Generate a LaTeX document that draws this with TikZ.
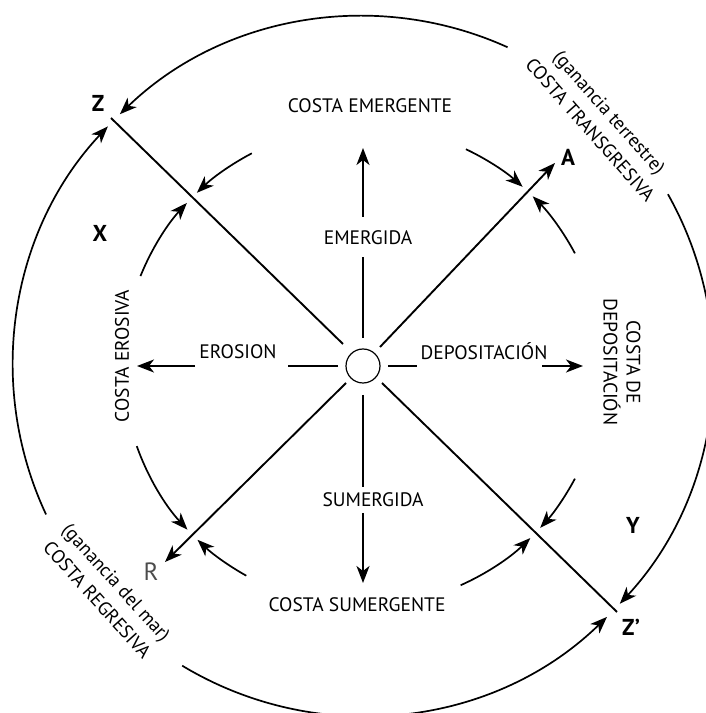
\documentclass[tikz,border=0pt]{standalone}
\usepackage{fontspec}
\setmainfont{PT Sans}
\usetikzlibrary{arrows.meta,calc}
\begin{document}
\begin{tikzpicture}[x=1pt,y=1pt,
  tip/.style={-{Stealth[length=17pt,width=13pt,inset=5pt]}},
  ln/.style={line width=1.9pt},
  arcl/.style={line width=1.7pt},
  lab/.style={font=\fontsize{19.5}{21}\selectfont, inner sep=0pt},
  rlab/.style={font=\fontsize{19}{20}\selectfont, inner sep=0pt, align=center},
  big/.style={font=\fontsize{23}{24}\selectfont\bfseries, inner sep=0pt},
]
\useasboundingbox (0,0) rectangle (706,713);
\coordinate (O) at (363,347);
\node[circle, draw, line width=1.2pt, minimum size=34pt, inner sep=0pt] (ctr) at (O) {};

% ---- radial arrows
\coordinate (upA) at (363,375); \coordinate (upB) at (363,456);
\coordinate (upC) at (363,496); \coordinate (upT) at (363,565);
\draw[ln] (upA) -- (upB);
\draw[ln,tip] (upC) -- (upT);
\coordinate (dnA) at (363,318); \coordinate (dnB) at (363,226);
\coordinate (dnC) at (363,200); \coordinate (dnT) at (363,130);
\draw[ln] (dnA) -- (dnB);
\draw[ln,tip] (dnC) -- (dnT);
\coordinate (lfA) at (338,347); \coordinate (lfB) at (288,347);
\coordinate (lfC) at (195,347); \coordinate (lfT) at (137,347);
\draw[ln] (lfA) -- (lfB);
\draw[ln,tip] (lfC) -- (lfT);
\coordinate (rtA) at (388,347); \coordinate (rtB) at (417,347);
\coordinate (rtC) at (542,347); \coordinate (rtT) at (583,347);
\draw[ln] (rtA) -- (rtB);
\draw[ln,tip] (rtC) -- (rtT);

% ---- diagonals
\coordinate (Zend) at (111,595); \coordinate (zA) at (343,369);
\coordinate (zB) at (382,330); \coordinate (Zpend) at (617,101);
\draw[ln] (Zend) -- (zA);
\draw[ln] (zB) -- (Zpend);
\coordinate (aA) at (380,366); \coordinate (Atip) at (555,550);
\coordinate (rA) at (346,330); \coordinate (Rtip) at (165,151);
\draw[ln,tip] (aA) -- (Atip);
\draw[ln,tip] (rA) -- (Rtip);

% ---- outer arcs (r = 350)
\coordinate (o1) at ($(O)+(65.6:350)$);
\coordinate (o2) at ($(O)+(205.1:350)$);
\coordinate (o3) at ($(O)+(29.4:350)$);
\coordinate (o4) at ($(O)+(238.9:350)$);
\draw[arcl,tip] (o1) arc[start angle=65.6, end angle=134, radius=350];
\draw[arcl,tip] (o2) arc[start angle=205.1, end angle=136.8, radius=350];
\draw[arcl,tip] (o3) arc[start angle=29.4, end angle=-42.8, radius=350];
\draw[arcl,tip] (o4) arc[start angle=238.9, end angle=314.2, radius=350];

% ---- inner arcs (r = 240)
\coordinate (i1) at ($(O)+(117.6:240)$);
\coordinate (i2) at ($(O)+(158:240)$);
\coordinate (i3) at ($(O)+(64.6:240)$);
\coordinate (i4) at ($(O)+(28:240)$);
\coordinate (i5) at ($(O)+(199.5:240)$);
\coordinate (i6) at ($(O)+(240.9:240)$);
\coordinate (i7) at ($(O)+(-28:240)$);
\coordinate (i8) at ($(O)+(-66:240)$);
\draw[arcl,tip] (i1) arc[start angle=117.6, end angle=133.8, radius=240];
\draw[arcl,tip] (i2) arc[start angle=158, end angle=137.2, radius=240];
\draw[arcl,tip] (i3) arc[start angle=64.6, end angle=48.3, radius=240];
\draw[arcl,tip] (i4) arc[start angle=28, end angle=45, radius=240];
\draw[arcl,tip] (i5) arc[start angle=199.5, end angle=223, radius=240];
\draw[arcl,tip] (i6) arc[start angle=240.9, end angle=226.4, radius=240];
\draw[arcl,tip] (i7) arc[start angle=-28, end angle=-42.4, radius=240];
\draw[arcl,tip] (i8) arc[start angle=-66, end angle=-45.8, radius=240];

% ---- labels
\node[lab] (cem) at (370,607) {COSTA EMERGENTE};
\node[lab] (emg) at (368,475) {EMERGIDA};
\node[lab] (ero) at (238,361) {EROSION};
\node[lab] (dep) at (484,362) {DEPOSITACIÓN};
\node[lab] (smg) at (373,213) {SUMERGIDA};
\node[lab] (csm) at (357,108) {COSTA SUMERGENTE};
\node[lab, rotate=90] (cer) at (122,357) {COSTA EROSIVA};
\node[lab, rotate=-90, align=center] (cdp) at (622,351) {COSTA DE\\[2pt]DEPOSITACIÓN};
\node[rlab, rotate=-48.5] (ctr2) at (600,592) {(ganancia terrestre)\\[6pt]COSTA TRANSGRESIVA};
\node[rlab, rotate=-48] (crg) at (107,122) {(ganancia del mar)\\[6pt]COSTA REGRESIVA};

\node[big] (Z) at (98,610) {Z};
\node[big] (X) at (100,480) {X};
\node[big] (A) at (568,556) {A};
\node[big] (Y) at (633,188) {Y};
\node[big] (Zp) at (631,86) {Z’};
\node[font=\fontsize{25}{26}\selectfont, text=black!70, inner sep=0pt] (R) at (151,141) {R};
\end{tikzpicture}
\end{document}
